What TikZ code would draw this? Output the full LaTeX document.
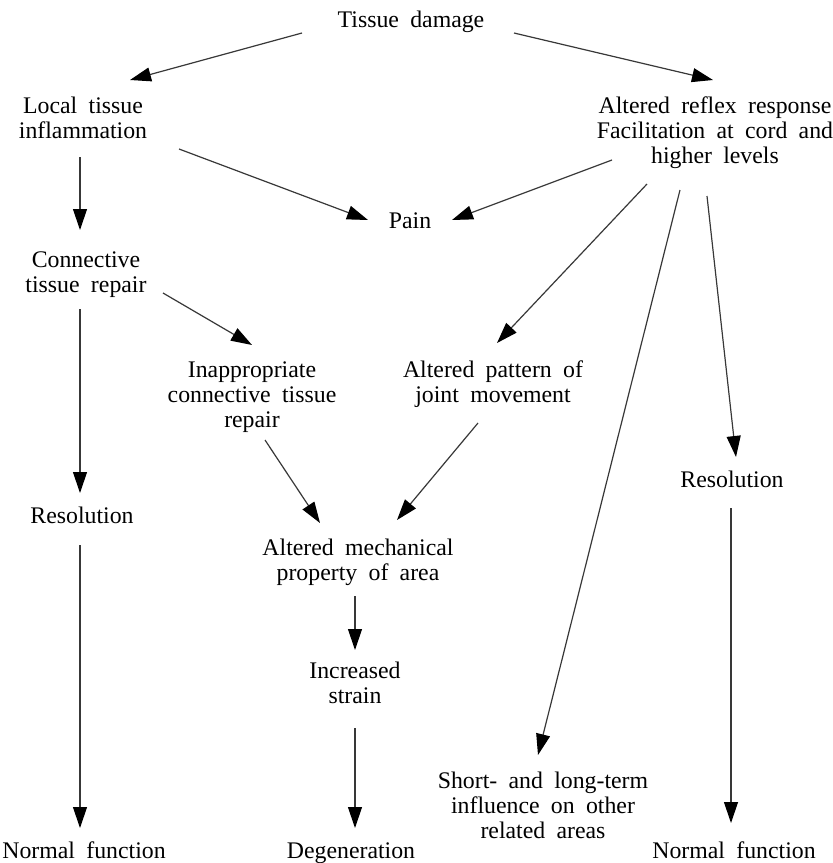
\documentclass[tikz,border=0pt]{standalone}
\usepackage{fontspec}
\setmainfont{Liberation Serif}[WordSpace=1.9]
\usetikzlibrary{arrows.meta,calc}

\tikzset{
  lbl/.style={inner sep=0pt, outer sep=0pt, align=center, anchor=base,
              font=\fontsize{23.8}{25}\selectfont},
  arr/.style={draw=black!78, line width=1.2pt,
              -{Triangle[length=21pt,width=14pt,fill=black,color=black]}}
}

\begin{document}
\begin{tikzpicture}[x=1pt,y=-1pt]
\useasboundingbox (0,0) rectangle (833,863);
\fill[white] (0,0) rectangle (833,863);

% labels, placed by the baseline of their last line
\node[lbl] (td)   at (411,27)  {Tissue damage};
\node[lbl] (lt)   at (83,138)  {Local tissue\\inflammation};
\node[lbl] (ar)   at (715,163) {Altered reflex response\\Facilitation at cord and\\higher levels};
\node[lbl] (pain) at (410,228) {Pain};
\node[lbl] (cr)   at (86,292)  {Connective\\tissue repair};
\node[lbl] (ia)   at (252,427) {Inappropriate\\connective tissue\\repair};
\node[lbl] (ap)   at (493,402) {Altered pattern of\\joint movement};
\node[lbl] (resL) at (82,523)  {Resolution};
\node[lbl] (resR) at (732,487) {Resolution};
\node[lbl] (am)   at (358,580) {Altered mechanical\\property of area};
\node[lbl] (is)   at (355,703) {Increased\\strain};
\node[lbl] (sh)   at (543,838) {Short- and long-term\\influence on other\\related areas};
\node[lbl] (nfL)  at (84,858)  {Normal function};
\node[lbl] (deg)  at (351,858) {Degeneration};
\node[lbl] (nfR)  at (734,858) {Normal function};

% connectors
\draw[arr] ($(td.base)+(-109,6)$)  -- ($(lt.base)+(47,-58)$);
\draw[arr] ($(td.base)+(103,6)$)   -- ($(ar.base)+(-2,-83)$);
\draw[arr] ($(lt.base)+(96,11)$)   -- ($(pain.base)+(-42,-8)$);
\draw[arr] ($(lt.base)+(-3,19)$)   -- ($(cr.base)+(-6,-62)$);
\draw[arr] ($(ar.base)+(-103,-3)$) -- ($(pain.base)+(42,-8)$);
\draw[arr] ($(ar.base)+(-68,21)$)  -- ($(ap.base)+(4,-59)$);
\draw[arr] ($(ar.base)+(-35,27)$)  -- ($(sh.base)+(-5,-83)$);
\draw[arr] ($(ar.base)+(-8,33)$)   -- ($(resR.base)+(4,-30)$);
\draw[arr] ($(cr.base)+(77,1)$)    -- ($(ia.base)+(0,-82)$);
\draw[arr] ($(cr.base)+(-6,17)$)   -- ($(resL.base)+(-2,-30)$);
\draw[arr] ($(ia.base)+(13,13)$)   -- ($(am.base)+(-38,-57)$);
\draw[arr] ($(ap.base)+(-15,21)$)  -- ($(am.base)+(39,-60)$);
\draw[arr] ($(am.base)+(-3,16)$)   -- ($(is.base)+(0,-53)$);
\draw[arr] ($(is.base)+(0,25)$)    -- ($(deg.base)+(4,-30)$);
\draw[arr] ($(resL.base)+(-2,22)$) -- ($(nfL.base)+(-4,-30)$);
\draw[arr] ($(resR.base)+(-1,21)$) -- ($(nfR.base)+(-3,-35)$);
\end{tikzpicture}
\end{document}
